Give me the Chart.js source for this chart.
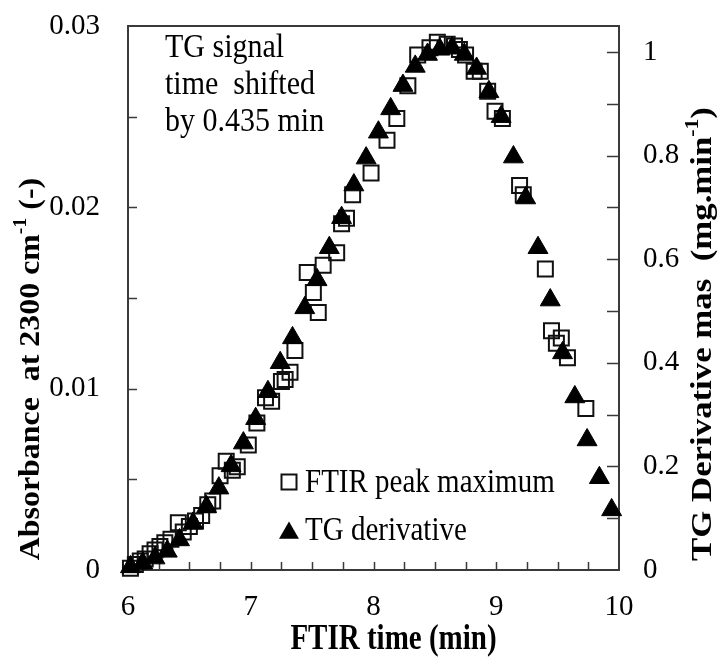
<!DOCTYPE html>
<html>
<head>
<meta charset="utf-8">
<script src="https://cdn.jsdelivr.net/npm/chart.js@4/dist/chart.umd.min.js"></script>
<style>
  html, body { margin: 0; padding: 0; background: #fff; }
  #wrap { width: 723px; height: 664px; }
</style>
</head>
<body>
<div id="wrap"><canvas id="c" width="723" height="664"></canvas></div>
<script>
// ---- data ----
const ftirTime = [6.02, 6.06, 6.10, 6.14, 6.18, 6.22, 6.26, 6.30, 6.35, 6.41, 6.45, 6.50, 6.55, 6.60, 6.65, 6.69, 6.75, 6.80, 6.85, 6.89, 6.98, 7.05, 7.12, 7.17, 7.25, 7.28, 7.32, 7.36, 7.46, 7.51, 7.55, 7.59, 7.70, 7.74, 7.78, 7.83, 7.98, 8.11, 8.19, 8.28, 8.36, 8.46, 8.52, 8.60, 8.66, 8.70, 8.75, 8.82, 8.87, 8.93, 8.99, 9.05, 9.19, 9.22, 9.40, 9.45, 9.49, 9.53, 9.58, 9.73];
const ftirAbs  = [0.0001, 0.0003, 0.0005, 0.0006, 0.0009, 0.0011, 0.0013, 0.0015, 0.0017, 0.0026, 0.0021, 0.0024, 0.0027, 0.0030, 0.0036, 0.0038, 0.0052, 0.0060, 0.0055, 0.0057, 0.0069, 0.0081, 0.0095, 0.0093, 0.0104, 0.0105, 0.0109, 0.0121, 0.0164, 0.0153, 0.0142, 0.0168, 0.0175, 0.0191, 0.0194, 0.0207, 0.0219, 0.0237, 0.0249, 0.0267, 0.0284, 0.0288, 0.0291, 0.0290, 0.0289, 0.0287, 0.0284, 0.0275, 0.0275, 0.0264, 0.0253, 0.0249, 0.0212, 0.0207, 0.0166, 0.0132, 0.0125, 0.0128, 0.0117, 0.0089];

const tgTime  = [6.02, 6.12, 6.22, 6.32, 6.42, 6.53, 6.64, 6.74, 6.84, 6.94, 7.04, 7.14, 7.24, 7.34, 7.44, 7.54, 7.64, 7.74, 7.84, 7.94, 8.04, 8.14, 8.24, 8.34, 8.44, 8.54, 8.64, 8.74, 8.84, 8.94, 9.04, 9.14, 9.24, 9.34, 9.44, 9.54, 9.64, 9.74, 9.84, 9.94];
const tgDeriv = [0.006, 0.013, 0.023, 0.036, 0.058, 0.090, 0.122, 0.158, 0.201, 0.245, 0.292, 0.344, 0.400, 0.448, 0.506, 0.560, 0.622, 0.680, 0.743, 0.795, 0.845, 0.890, 0.935, 0.972, 0.995, 1.005, 1.008, 0.995, 0.968, 0.923, 0.875, 0.797, 0.718, 0.622, 0.521, 0.419, 0.334, 0.251, 0.178, 0.116];

const xTickValues     = [6, 7, 8, 9, 10];
const leftTickValues  = [0, 0.01, 0.02, 0.03];
const rightTickValues = [0, 0.2, 0.4, 0.6, 0.8, 1];
const seriesNames = ['FTIR peak maximum', 'TG derivative'];
const noteLines = ['TG signal', 'time  shifted', 'by 0.435 min'];

const xTitle = 'FTIR time (min)';
const leftTitle = [['Absorbance  at 2300 cm', false], ['-1', true], [' (-)', false]];
const rightTitle = [['TG Derivative mas  (mg.min', false], ['-1', true], [')', false]];

// ---- styling ----
const SERIF = '"Liberation Serif", "Times New Roman", serif';
const TICK_FONT = 29;
const TITLE_FONT = 29;
const FRAME = '#3a3a3a';
const STRETCH = 1.2; // reference text is stretched vertically

function drawRich(ctx, parts, size, bold) {
  const base = (bold ? 'bold ' : '') + size + 'px ' + SERIF;
  const sup = (bold ? 'bold ' : '') + Math.round(size * 0.62) + 'px ' + SERIF;
  let total = 0;
  parts.forEach(p => { ctx.font = p[1] ? sup : base; total += ctx.measureText(p[0]).width; });
  let x = -total / 2;
  parts.forEach(p => {
    ctx.font = p[1] ? sup : base;
    ctx.fillText(p[0], x, p[1] ? -size * 0.36 : 0);
    x += ctx.measureText(p[0]).width;
  });
}

function noPad(s) { s.paddingTop = 0; s.paddingBottom = 0; s.paddingLeft = 0; s.paddingRight = 0; }

const decor = {
  id: 'decor',
  beforeDatasetsDraw(chart) {
    const { ctx, chartArea: a, scales } = chart;
    ctx.save();
    ctx.strokeStyle = FRAME;
    ctx.lineWidth = 2;
    ctx.strokeRect(a.left, a.top, a.right - a.left, a.bottom - a.top);
    ctx.lineWidth = 1.5;
    ctx.beginPath();
    for (let i = 1; i < 16; i++) {
      const px = Math.round(scales.x.getPixelForValue(6 + i * 0.25)) + 0.5;
      ctx.moveTo(px, a.bottom); ctx.lineTo(px, a.bottom - 8);
    }
    for (let i = 1; i < 6; i++) {
      const py = Math.round(scales.yL.getPixelForValue(i * 0.005)) + 0.5;
      ctx.moveTo(a.left, py); ctx.lineTo(a.left + 9, py);
    }
    for (let i = 1; i <= 10; i++) {
      const py = Math.round(scales.yR.getPixelForValue(i * 0.1)) + 0.5;
      ctx.moveTo(a.right, py); ctx.lineTo(a.right - 12, py);
    }
    ctx.stroke();
    ctx.restore();
  },
  afterDraw(chart) {
    const { ctx, chartArea: a } = chart;
    ctx.save();
    ctx.fillStyle = '#000';
    ctx.textBaseline = 'middle';
    // x title
    ctx.save();
    ctx.translate((a.left + a.right) / 2 + 20, 640);
    ctx.scale(1, STRETCH);
    ctx.textAlign = 'center';
    ctx.font = 'bold ' + TITLE_FONT + 'px ' + SERIF;
    ctx.fillText(xTitle, 0, 0);
    ctx.restore();
    // left title
    ctx.save();
    ctx.translate(32, 369);
    ctx.rotate(-Math.PI / 2);
    ctx.scale(1.1, 1);
    ctx.textAlign = 'left';
    drawRich(ctx, leftTitle, TITLE_FONT, true);
    ctx.restore();
    // right title
    ctx.save();
    ctx.translate(704, 334);
    ctx.rotate(-Math.PI / 2);
    ctx.scale(STRETCH, 1);
    ctx.textAlign = 'left';
    drawRich(ctx, rightTitle, TITLE_FONT, true);
    ctx.restore();
    // annotation
    ctx.textAlign = 'left';
    ctx.font = '30px ' + SERIF;
    noteLines.forEach((t, i) => {
      ctx.save(); ctx.translate(165, 48 + i * 37); ctx.scale(1, STRETCH * 0.95);
      ctx.fillText(t, 0, 0); ctx.restore();
    });
    // legend
    ctx.font = '29px ' + SERIF;
    [[seriesNames[0], 483], [seriesNames[1], 531]].forEach(([t, y]) => {
      ctx.save(); ctx.translate(305, y); ctx.scale(1, STRETCH * 0.95);
      ctx.fillText(t, 0, 0); ctx.restore();
    });
    ctx.strokeStyle = '#111';
    ctx.lineWidth = 2;
    ctx.strokeRect(281.5, 474.5, 15, 15);
    ctx.beginPath();
    const r = 11.5, cx = 289, cy = 533;
    ctx.moveTo(cx, cy - r);
    ctx.lineTo(cx + r * Math.sin(2 * Math.PI / 3), cy + r / 2);
    ctx.lineTo(cx - r * Math.sin(2 * Math.PI / 3), cy + r / 2);
    ctx.closePath();
    ctx.fillStyle = '#000';
    ctx.fill();
    ctx.restore();
  }
};

const tgPoints = tgTime.map((t, i) => ({ x: t, y: tgDeriv[i] }));
const ftirPoints = ftirTime.map((t, i) => ({ x: t, y: ftirAbs[i] }));

new Chart(document.getElementById('c'), {
  type: 'scatter',
  data: {
    datasets: [
      {
        label: seriesNames[1], data: tgPoints, yAxisID: 'yR', order: 0,
        pointStyle: 'triangle', pointRadius: 11.5, pointHoverRadius: 11.5,
        backgroundColor: '#000', borderColor: '#000', borderWidth: 1, clip: false
      },
      {
        label: seriesNames[0], data: ftirPoints, yAxisID: 'yL', order: 1,
        pointStyle: 'rect', pointRadius: 10.6, pointHoverRadius: 10.6,
        backgroundColor: 'rgba(0,0,0,0)', borderColor: '#111', borderWidth: 2, clip: false
      }
    ]
  },
  options: {
    responsive: false,
    devicePixelRatio: 1,
    animation: false,
    events: [],
    layout: { padding: { top: 26, left: 0, right: 0, bottom: 0 } },
    plugins: { legend: { display: false }, tooltip: { enabled: false } },
    scales: {
      x: {
        type: 'linear', min: 6, max: 10,
        grid: { display: false, drawTicks: false },
        border: { display: false },
        afterBuildTicks: s => { s.ticks = xTickValues.map(v => ({ value: v })); },
        afterFit: s => { s.height = 94; noPad(s); },
        ticks: { padding: 20, color: '#000', font: { family: SERIF, size: TICK_FONT }, maxRotation: 0,
                 callback: v => String(v) }
      },
      yL: {
        type: 'linear', position: 'left', min: 0, max: 0.03,
        grid: { display: false, drawTicks: false },
        border: { display: false },
        afterBuildTicks: s => { s.ticks = leftTickValues.map(v => ({ value: v })); },
        afterFit: s => { s.width = 128; noPad(s); },
        ticks: { padding: 28, color: '#000', font: { family: SERIF, size: TICK_FONT },
                 callback: v => String(+v.toFixed(3)) }
      },
      yR: {
        type: 'linear', position: 'right', min: 0, max: 1.05,
        grid: { display: false, drawTicks: false },
        border: { display: false },
        afterBuildTicks: s => { s.ticks = rightTickValues.map(v => ({ value: v })); },
        afterFit: s => { s.width = 104; noPad(s); },
        ticks: { padding: 24, color: '#000', font: { family: SERIF, size: TICK_FONT },
                 callback: v => String(+v.toFixed(2)) }
      }
    }
  },
  plugins: [decor]
});
</script>
</body>
</html>
